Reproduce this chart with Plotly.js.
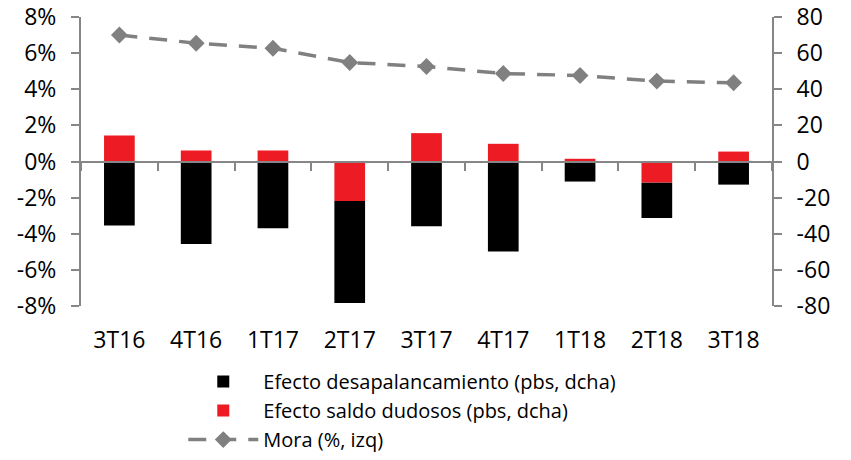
<!DOCTYPE html>
<html>
<head>
<meta charset="utf-8">
<script src="https://cdn.plot.ly/plotly-3.0.1.min.js"></script>
<style>
  body { margin: 0; background: #fff; }
  #chart { width: 851px; height: 460px; }
</style>
</head>
<body>
<div id="chart"></div>
<script>
// Mora y efectos sobre la tasa de mora
const quarters = ['3T16', '4T16', '1T17', '2T17', '3T17', '4T17', '1T18', '2T18', '3T18'];
const desapalancamiento = [-35.4, -45.7, -36.9, -56.6, -35.8, -49.8, -11.1, -19.6, -12.8]; // pbs
const saldoDudosos = [14.4, 6.1, 6.1, -21.8, 15.7, 9.8, 1.5, -11.7, 5.5];               // pbs
const mora = [7.0, 6.55, 6.27, 5.48, 5.26, 4.87, 4.76, 4.45, 4.36];                      // %

const leftTicks = [-8, -6, -4, -2, 0, 2, 4, 6, 8];
const leftLabels = ['-8%', '-6%', '-4%', '-2%', '0%', '2%', '4%', '6%', '8%'];
const rightTicks = [-80, -60, -40, -20, 0, 20, 40, 60, 80];
const rightLabels = ['-80', '-60', '-40', '-20', '0', '20', '40', '60', '80'];

const axisColor = '#868686';
const fontFamily = '"Open Sans", Lato, sans-serif';

const traces = [
    {
        x: quarters, y: saldoDudosos,
        type: 'bar', yaxis: 'y2', xaxis: 'x',
        name: 'Efecto saldo dudosos (pbs, dcha)',
        marker: { color: '#ED1C24' },
        legendrank: 2
    },
    {
        x: quarters, y: desapalancamiento,
        type: 'bar', yaxis: 'y2', xaxis: 'x',
        name: 'Efecto desapalancamiento (pbs, dcha)',
        marker: { color: '#000000' },
        legendrank: 1
    },
    {
        x: quarters, y: mora,
        type: 'scatter', mode: 'lines+markers', yaxis: 'y', xaxis: 'x',
        name: 'Mora (%, izq)',
        line: { color: '#808080', width: 3.5, dash: '18px,12px' },
        marker: { symbol: 'diamond', size: 13, color: '#808080' },
        legendrank: 3
    },
    // empty trace so the label axis (xaxis2) gets drawn
    {
        x: quarters, y: quarters.map(() => null),
        type: 'scatter', xaxis: 'x2', yaxis: 'y',
        showlegend: false, hoverinfo: 'skip'
    }
];

const layout = {
    width: 851,
    height: 460,
    margin: { l: 81, r: 79, t: 17, b: 154 },
    paper_bgcolor: '#ffffff',
    plot_bgcolor: '#ffffff',
    font: { family: fontFamily, size: 20, color: '#000000' },
    barmode: 'relative',
    bargap: 0.6,
    showlegend: true,
    legend: {
        xref: 'paper', yref: 'container',
        x: 0.148, xanchor: 'left',
        y: 0.002, yanchor: 'bottom',
        font: { size: 20 },
        itemwidth: 70,
        tracegroupgap: 0
    },
    xaxis: {
        type: 'category',
        range: [-0.5, 8.5],
        anchor: 'free',
        position: 0.5,
        showline: true, linecolor: axisColor, linewidth: 2,
        ticks: 'outside', tickson: 'boundaries', ticklen: 8, tickwidth: 2, tickcolor: axisColor,
        showticklabels: false,
        showgrid: false, zeroline: false
    },
    xaxis2: {
        type: 'category',
        overlaying: 'x',
        matches: 'x',
        anchor: 'y',
        side: 'bottom',
        showline: false, ticks: '',
        showgrid: false, zeroline: false,
        ticklabelstandoff: 18,
        tickangle: 0,
        tickfont: { size: 23 }
    },
    yaxis: {
        range: [-8, 8], tickvals: leftTicks, ticktext: leftLabels,
        showline: true, linecolor: axisColor, linewidth: 2,
        ticks: 'outside', ticklen: 8, tickwidth: 2, tickcolor: axisColor,
        ticklabelstandoff: 10,
        showgrid: false, zeroline: false,
        tickfont: { size: 23 }
    },
    yaxis2: {
        range: [-80, 80], tickvals: rightTicks, ticktext: rightLabels,
        overlaying: 'y', side: 'right',
        showline: true, linecolor: axisColor, linewidth: 2,
        ticks: 'outside', ticklen: 8, tickwidth: 2, tickcolor: axisColor,
        ticklabelstandoff: 10,
        showgrid: false, zeroline: false,
        tickfont: { size: 23 }
    }
};

Plotly.newPlot('chart', traces, layout, { displayModeBar: false });
</script>
</body>
</html>
